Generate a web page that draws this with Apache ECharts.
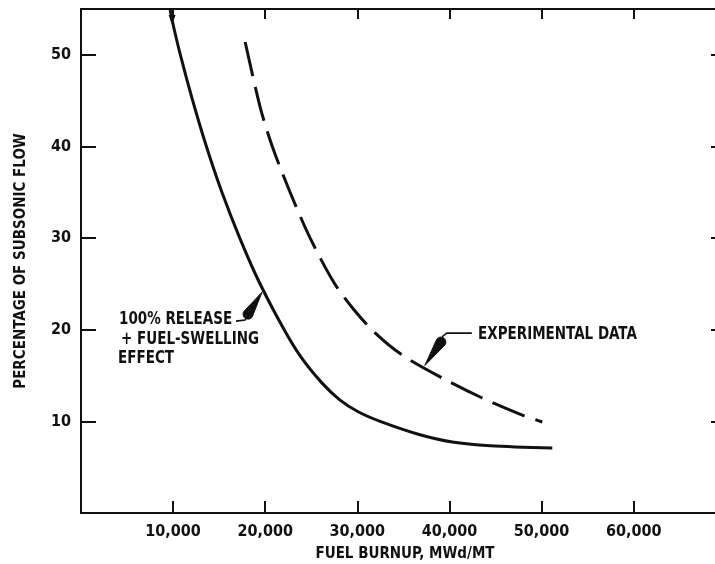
<!DOCTYPE html>
<html>
<head>
<meta charset="utf-8">
<script src="https://cdn.jsdelivr.net/npm/echarts@6/dist/echarts.min.js"></script>
<style>
html, body { margin: 0; padding: 0; background: #fff; }
#chart { width: 715px; height: 564px; }
</style>
</head>
<body>
<div id="chart"></div>
<script>
// fuel burnup (MWd/MT) vs percentage of subsonic flow
const xTicks = [10000, 20000, 30000, 40000, 50000, 60000];
const xTickLabels = ['10,000', '20,000', '30,000', '40,000', '50,000', '60,000'];
const yTicks = [10, 20, 30, 40, 50];
const yTickLabels = ['10', '20', '30', '40', '50'];

// 100% release + fuel-swelling effect (solid)
const releaseBurnup = [9670, 9890, 10760, 12100, 13600, 15300, 17240, 19250, 22000, 23890, 26150, 28090, 30090, 32480, 36610, 40300, 44430, 51170];
const releaseFlow = [55.0, 53.8, 50.1, 45.1, 40.05, 35.0, 30.0, 25.4, 20.1, 17.0, 14.2, 12.35, 11.05, 10.0, 8.6, 7.75, 7.35, 7.1];

// experimental data (dashed)
const expBurnup = [17820, 19450, 20750, 22700, 24880, 27490, 29660, 31830, 34870, 39220, 43560, 47910, 50080];
const expFlow = [51.4, 44.3, 40.05, 35.0, 30.0, 25.1, 22.15, 19.75, 17.24, 14.73, 12.55, 10.69, 9.93];

// callout pointers in data units: leader line, round head, tip on the curve
const pointers = [
  { leader: [[16830, 20.94], [17810, 21.05]], head: [18140, 21.7], tip: [19650, 24.1] },
  { leader: [[42430, 19.63], [39720, 19.63], [39280, 19.3]], head: [39070, 18.65], tip: [37330, 16.1] }
];

const FONT = "'DejaVu Sans Condensed', 'Liberation Sans Narrow', 'DejaVu Sans', sans-serif";
const INK = '#111';

function tickLabel(ticks, labels) {
  return function (v) {
    const i = ticks.indexOf(v);
    return i < 0 ? '' : labels[i];
  };
}

function teardrop(h, t, r) {
  const a = Math.atan2(t[1] - h[1], t[0] - h[0]);
  const pts = [t];
  for (let k = 0; k <= 16; k++) {
    const ang = a + Math.PI / 2 + k * Math.PI / 16;
    pts.push([h[0] + r * Math.cos(ang), h[1] + r * Math.sin(ang)]);
  }
  return pts;
}

const releaseData = releaseBurnup.map((x, i) => [x, releaseFlow[i]]);
releaseData[1] = { value: releaseData[1], symbol: 'triangle', symbolSize: [7, 10], symbolRotate: 180 };
const expData = expBurnup.map((x, i) => [x, expFlow[i]]);

const chart = echarts.init(document.getElementById('chart'));

const axisLineStyle = { color: INK, width: 2 };
const labelStyle = { color: INK, fontFamily: FONT, fontWeight: 'bold', fontSize: 16 };
const nameStyle = { color: INK, fontFamily: FONT, fontWeight: 'bold', fontSize: 15 };

chart.setOption({
  backgroundColor: '#fff',
  animation: false,
  grid: { left: 81, right: -8, top: 9, bottom: 51, outerBoundsMode: 'none' },
  xAxis: [
    {
      type: 'value', position: 'bottom', min: 0, max: 69700, interval: 10000,
      name: 'FUEL BURNUP, MWd/MT', nameLocation: 'middle', nameGap: 34,
      nameTextStyle: Object.assign({ padding: [0, 0, 0, 6] }, nameStyle),
      axisLine: { show: true, onZero: false, lineStyle: axisLineStyle },
      axisTick: { show: true, inside: true, length: 12, lineStyle: axisLineStyle },
      axisLabel: Object.assign({ margin: 11, showMinLabel: false, showMaxLabel: false,
        formatter: tickLabel(xTicks, xTickLabels) }, labelStyle),
      splitLine: { show: false }
    },
    {
      type: 'value', position: 'top', min: 0, max: 69700, interval: 10000,
      axisLine: { show: true, onZero: false, lineStyle: axisLineStyle },
      axisTick: { show: true, inside: true, length: 10, lineStyle: axisLineStyle },
      axisLabel: { show: false },
      splitLine: { show: false }
    }
  ],
  yAxis: [
    {
      type: 'value', position: 'left', min: 0, max: 55, interval: 10,
      name: 'PERCENTAGE OF SUBSONIC FLOW', nameLocation: 'middle', nameGap: 52,
      nameTextStyle: nameStyle,
      axisLine: { show: true, onZero: false, lineStyle: axisLineStyle },
      axisTick: { show: true, inside: true, length: 15, lineStyle: axisLineStyle },
      axisLabel: Object.assign({ margin: 10, showMinLabel: false, showMaxLabel: false,
        formatter: tickLabel(yTicks, yTickLabels) }, labelStyle),
      splitLine: { show: false }
    },
    {
      type: 'value', position: 'right', min: 0, max: 55, interval: 10,
      axisLine: { show: true, onZero: false, lineStyle: axisLineStyle },
      axisTick: { show: true, inside: true, length: 12, lineStyle: axisLineStyle },
      axisLabel: { show: false },
      splitLine: { show: false }
    }
  ],
  series: [
    {
      name: '100% release + fuel-swelling effect', type: 'line', data: releaseData,
      symbol: 'none', smooth: 0.3, itemStyle: { color: INK },
      lineStyle: { color: INK, width: 3 }, z: 3
    },
    {
      name: 'Experimental data', type: 'line', data: expData,
      symbol: 'none', smooth: 0.3,
      lineStyle: { color: INK, width: 3, type: [35, 11], cap: 'butt' }, z: 3
    },
    {
      type: 'custom', coordinateSystem: 'cartesian2d', clip: false, z: 5,
      data: pointers.map((p, i) => [p.tip[0], p.tip[1], i]),
      encode: { x: 0, y: 1 },
      renderItem: function (params, api) {
        const p = pointers[api.value(2)];
        const leader = p.leader.map(d => api.coord(d));
        const h = api.coord(p.head);
        const t = api.coord(p.tip);
        leader.push(h);
        return {
          type: 'group',
          children: [
            { type: 'polyline', shape: { points: leader }, style: { stroke: INK, lineWidth: 1.6, fill: null } },
            { type: 'polygon', shape: { points: teardrop(h, t, 5) }, style: { fill: INK, stroke: INK, lineWidth: 1 } }
          ]
        };
      }
    }
  ],
  graphic: [
    { type: 'text', x: 119, y: 320, scaleY: 1.15, style: { text: '100% RELEASE', fill: INK, fontFamily: FONT, fontWeight: 'bold', fontSize: 15, verticalAlign: 'middle' } },
    { type: 'text', x: 121, y: 340, scaleY: 1.15, style: { text: '+ FUEL-SWELLING', fill: INK, fontFamily: FONT, fontWeight: 'bold', fontSize: 15, verticalAlign: 'middle' } },
    { type: 'text', x: 118, y: 359, scaleY: 1.15, style: { text: 'EFFECT', fill: INK, fontFamily: FONT, fontWeight: 'bold', fontSize: 15, verticalAlign: 'middle' } },
    { type: 'text', x: 478, y: 335, scaleY: 1.15, style: { text: 'EXPERIMENTAL DATA', fill: INK, fontFamily: FONT, fontWeight: 'bold', fontSize: 15, verticalAlign: 'middle' } }
  ]
});
</script>
</body>
</html>
